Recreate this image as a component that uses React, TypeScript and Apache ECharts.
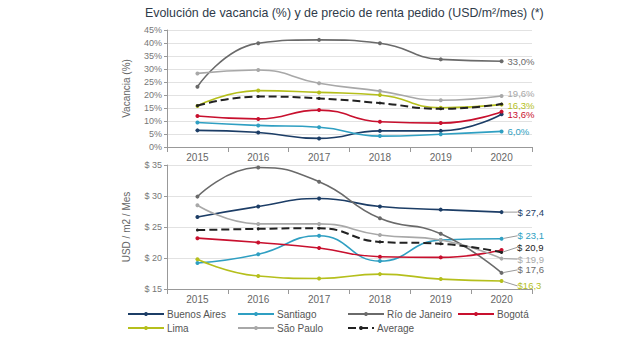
import React, { useEffect, useRef } from "react";
import * as echarts from "echarts";

const years = ["2015", "2016", "2017", "2018", "2019", "2020"];
const seriesNames = ["Buenos Aires", "Santiago", "Río de Janeiro", "Bogotá", "Lima", "São Paulo", "Average"];
const colors = ["#1c3d66", "#2f9fc2", "#6a6a6a", "#c8102e", "#b5bf1c", "#a8a8a8", "#222222"];

// Vacancia (%)
const vacBuenosAires = [6.4, 5.6, 3.3, 6.2, 6.2, 12.6];
const vacSantiago = [9.4, 8.3, 7.6, 4.2, 4.9, 6.0];
const vacRio = [23.2, 39.9, 41.2, 39.9, 33.7, 33.0];
const vacBogota = [11.9, 10.8, 14.2, 9.7, 9.2, 13.6];
const vacLima = [15.8, 21.7, 21.0, 20.0, 15.1, 16.3];
const vacSaoPaulo = [28.3, 29.6, 24.5, 21.5, 18.0, 19.6];
const vacAverage = [15.9, 19.4, 18.7, 16.9, 14.7, 16.5];

// Renta pedido (USD/m2/mes)
const rentBuenosAires = [26.6, 28.3, 29.6, 28.3, 27.8, 27.4];
const rentSantiago = [19.2, 20.6, 23.6, 19.5, 22.9, 23.1];
const rentRio = [29.9, 34.6, 32.3, 26.4, 23.9, 17.6];
const rentBogota = [23.2, 22.5, 21.6, 20.2, 20.1, 21.3];
const rentLima = [19.8, 17.1, 16.7, 17.4, 16.6, 16.3];
const rentSaoPaulo = [28.5, 25.5, 25.5, 23.7, 22.9, 19.9];
const rentAverage = [24.5, 24.7, 24.8, 22.6, 22.3, 20.9];

const vacTicks = [0, 45, 5];
const rentTicks = [15, 35, 5];

const vacData = [vacBuenosAires, vacSantiago, vacRio, vacBogota, vacLima, vacSaoPaulo, vacAverage];
const rentData = [rentBuenosAires, rentSantiago, rentRio, rentBogota, rentLima, rentSaoPaulo, rentAverage];

const vacLabelShow = [false, true, true, true, true, true, false];
const vacLabelDy = [0, 0, 0, 3, 0.5, -2.5, 0];
const rentLabelShow = [true, true, true, false, true, true, true];
const rentLabelDy = [0, -3, -3, 0, 5, 0.5, -5];

const FONT = "Liberation Sans, Arial, sans-serif";

const fmt = (v: number) => v.toFixed(1).replace(".", ",");

export default function App() {
  const ref = useRef<HTMLDivElement>(null);
  useEffect(() => {
    if (!ref.current) return;
    const chart = echarts.init(ref.current, null, { renderer: "svg" });
    const series: any[] = [];
    seriesNames.forEach((name, i) => {
      const isAvg = name === "Average";
      const base = {
        name,
        type: "line",
        smooth: true,
        symbol: "circle",
        symbolSize: isAvg ? 3 : 4,
        color: colors[i],
        lineStyle: { width: isAvg ? 2 : 1.6, color: colors[i], type: isAvg ? "dashed" : "solid" },
        itemStyle: { color: colors[i] },
        z: isAvg ? 3 : 2,
      };
      series.push({
        ...base,
        xAxisIndex: 0,
        yAxisIndex: 0,
        labelLayout: { dy: vacLabelDy[i] },
        data: vacData[i].map((v, j) =>
          j === years.length - 1 && vacLabelShow[i]
            ? {
                value: v,
                label: {
                  show: true,
                  position: "right",
                  distance: 4,
                  formatter: (p: any) => fmt(p.value) + "%",
                  color: colors[i],
                  fontSize: 9.5,
                  lineHeight: 8,
                  fontFamily: FONT,
                },
              }
            : v
        ),
      });
      series.push({
        ...base,
        xAxisIndex: 1,
        yAxisIndex: 1,
        labelLayout: { dy: rentLabelDy[i] },
        labelLine: { show: true, lineStyle: { color: "#999", width: 1 } },
        data: rentData[i].map((v, j) =>
          j === years.length - 1 && rentLabelShow[i]
            ? {
                value: v,
                label: {
                  show: true,
                  position: "right",
                  distance: 14,
                  formatter: (p: any) => (name === "Lima" ? "$" : "$ ") + fmt(p.value),
                  color: colors[i],
                  fontSize: 9.5,
                  lineHeight: 8,
                  fontFamily: FONT,
                },
              }
            : v
        ),
      });
    });

    const legendPos = [
      [127, 309],
      [237, 309],
      [347, 309],
      [457, 309],
      [127, 323],
      [237, 323],
      [347, 323],
    ];
    const legends = seriesNames.map((name, i) => ({
      data: [name],
      left: legendPos[i][0],
      top: legendPos[i][1],
      padding: 0,
      itemWidth: name === "Average" ? 26 : 36,
      itemHeight: 5,
      itemGap: 0,
      textStyle: { fontSize: 10, color: "#555", fontFamily: FONT, padding: [0, 0, 0, -2] },
      selectedMode: false,
    }));

    const xAxisCommon = {
      type: "category",
      data: years,
      axisLine: { lineStyle: { color: "#999" } },
      axisTick: { show: true, lineStyle: { color: "#999" } },
      axisLabel: { color: "#666", fontSize: 10, fontFamily: FONT, margin: 5 },
    };
    const yAxisCommon = {
      type: "value",
      axisLine: { show: true, lineStyle: { color: "#999" } },
      axisTick: { show: true, length: 3, lineStyle: { color: "#999" } },
      splitLine: { lineStyle: { color: "#e2e2e2" } },
      nameLocation: "middle",
      nameRotate: 90,
      nameTextStyle: { color: "#666", fontSize: 10, fontFamily: FONT },
    };

    chart.setOption({
      animation: false,
      backgroundColor: "#ffffff",
      title: {
        text: "Evolución de vacancia (%) y de precio de renta pedido (USD/m²/mes) (*)",
        left: 145,
        top: 7,
        padding: 0,
        textStyle: { fontSize: 12.4, fontWeight: "normal", color: "#2f3b4a", fontFamily: FONT },
      },
      legend: legends,
      grid: [
        { left: 167, right: 108, top: 30, height: 117 },
        { left: 167, right: 108, top: 165, height: 124 },
      ],
      xAxis: [
        { ...xAxisCommon, gridIndex: 0 },
        { ...xAxisCommon, gridIndex: 1 },
      ],
      yAxis: [
        {
          ...yAxisCommon,
          gridIndex: 0,
          min: vacTicks[0],
          max: vacTicks[1],
          interval: vacTicks[2],
          name: "Vacancia (%)",
          nameGap: 36,
          axisLabel: { color: "#777", fontSize: 9, fontFamily: FONT, formatter: "{value}%", margin: 5 },
        },
        {
          ...yAxisCommon,
          gridIndex: 1,
          min: rentTicks[0],
          max: rentTicks[1],
          interval: rentTicks[2],
          name: "USD / m2 / Mes",
          nameGap: 36,
          axisLabel: { color: "#777", fontSize: 9, fontFamily: FONT, formatter: "$ {value}", margin: 5 },
        },
      ],
      series,
    });
    return () => chart.dispose();
  }, []);
  return (
    <div
      ref={ref}
      style={{ position: "fixed", left: 0, top: 0, width: 640, height: 338, background: "#fff" }}
    />
  );
}
